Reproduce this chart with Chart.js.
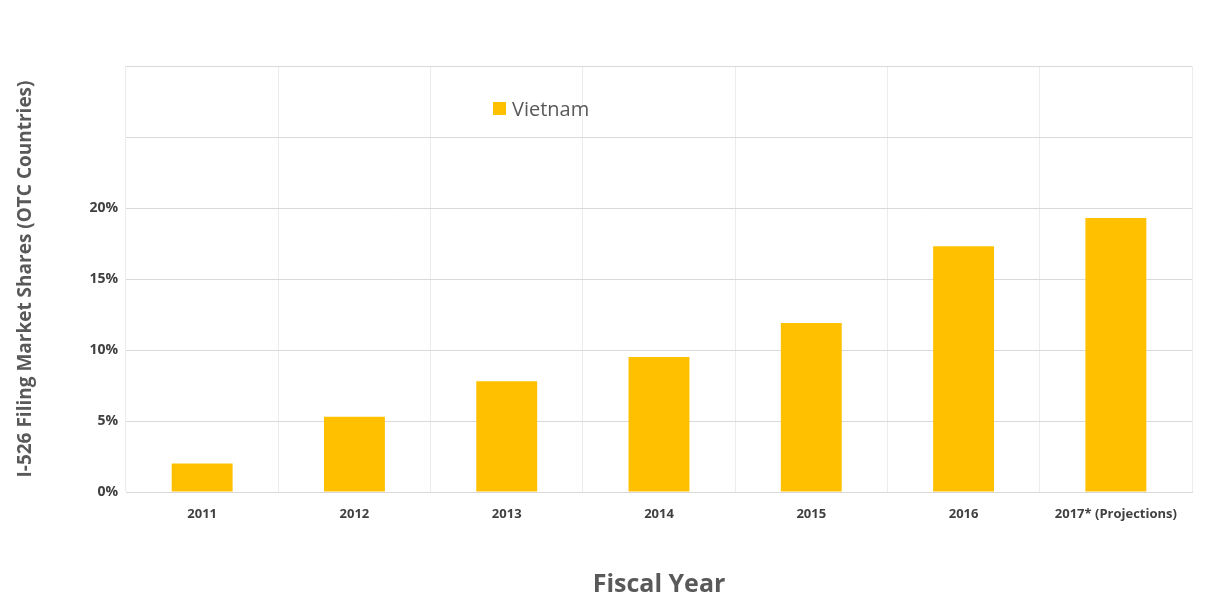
<!DOCTYPE html>
<html><head><meta charset="utf-8">
<script src="https://cdn.jsdelivr.net/npm/chart.js@4"></script>
<style>html,body{margin:0;padding:0;background:#fff}#w{position:relative;width:1222px;height:604px}
#lg{position:absolute;left:493px;top:95px;font:20px "Open Sans",sans-serif;color:#595959;display:flex;align-items:center}
#lg span{display:inline-block;width:13px;height:13px;background:#FFC000;margin-right:6px}</style>
</head><body><div id="w"><canvas id="c" width="1222" height="604"></canvas><div id="lg"><span></span>Vietnam</div></div>
<script>
const categories=["2011","2012","2013","2014","2015","2016","2017* (Projections)"];
const seriesLabel="Vietnam";
const values=[2.0,5.3,7.8,9.5,11.9,17.3,19.3];
const yTicks=[0,5,10,15,20];
document.getElementById('lg').lastChild.textContent=seriesLabel;
new Chart(document.getElementById('c'),{type:'bar',
data:{labels:categories,datasets:[{label:seriesLabel,data:values,backgroundColor:'#FFC000',categoryPercentage:1,barPercentage:0.4}]},
options:{responsive:false,animation:false,layout:{padding:{top:66,right:30,left:10,bottom:0}},
plugins:{legend:{display:false},tooltip:{enabled:false}},
scales:{
x:{grid:{color:'#ececec',drawTicks:false},border:{color:'#d9d9d9'},ticks:{color:'#404040',font:{family:'Open Sans',size:13,weight:'bold'},padding:14,maxRotation:0},
 title:{display:true,text:'Fiscal Year',color:'#595959',font:{family:'Open Sans',size:25,weight:'bold'},padding:{top:30}},
 afterFit:s=>{s.height=112}},
y:{min:0,max:30,grid:{color:'#d9d9d9',drawTicks:false},border:{display:false},
 ticks:{stepSize:5,padding:8,color:'#404040',font:{family:'Open Sans',size:14,weight:'bold'},callback:v=>yTicks.includes(v)?v+'%':''},
 title:{display:true,text:'I-526 Filing Market Shares (OTC Countries)',color:'#595959',font:{family:'Open Sans',size:19,weight:'bold'}},
 afterFit:s=>{s.width=116}}}}});
</script></body></html>
